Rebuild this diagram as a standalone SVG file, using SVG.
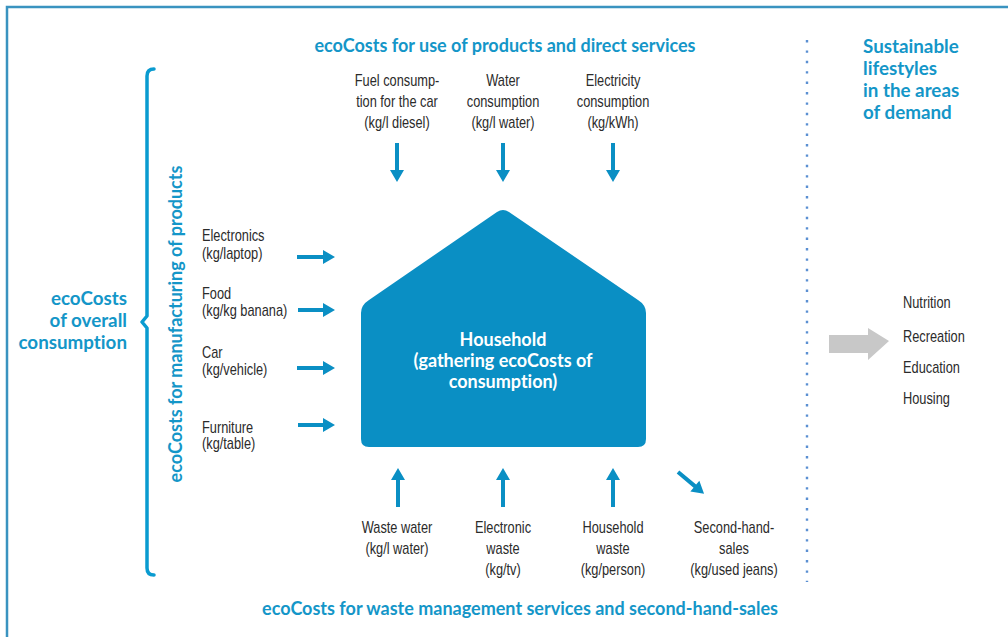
<svg xmlns="http://www.w3.org/2000/svg" width="1008" height="637" viewBox="0 0 1008 637">
<defs>
<style>
.t{font-family:"Liberation Sans",Arial,sans-serif;font-size:16px;fill:#2b2b2b;}
.c{text-anchor:middle;}
.h{font-family:Lato,"Open Sans",sans-serif;font-weight:700;font-size:18px;fill:#1496c8;font-variant-ligatures:none;}
.hb{font-family:Lato,"Open Sans",sans-serif;font-weight:700;font-size:18.8px;fill:#1496c8;font-variant-ligatures:none;}
.hw{font-family:Lato,"Open Sans",sans-serif;font-weight:700;font-size:18px;fill:#ffffff;text-anchor:middle;font-variant-ligatures:none;}
.ar{fill:#0a8fc4;}
</style>
</defs>
<rect x="0" y="0" width="1008" height="637" fill="#ffffff"/>
<path d="M7,640 L7,7 L1012,7" fill="none" stroke="#3a93c0" stroke-width="2.5"/>

<g id="brace">
<path d="M154,69 Q147,69 147,76 L147,316 L142,322 L147,328 L147,568 Q147,575 154,575" fill="none" stroke="#0a9bd0" stroke-width="3.5" stroke-linecap="round" stroke-linejoin="round"/>
</g>
<g id="overall">
<text class="hb" text-anchor="end" x="127" y="305">ecoCosts</text>
<text class="hb" text-anchor="end" x="127" y="327">of overall</text>
<text class="hb" text-anchor="end" x="127" y="349">consumption</text>
</g>
<g id="manufacturing">
<text class="h c" font-size="17.5" transform="translate(182,324) rotate(-90)" x="0" y="0">ecoCosts for manufacturing of products</text>
</g>
<g id="use-heading">
<text class="h c" x="505" y="52">ecoCosts for use of products and direct services</text>
</g>
<g id="waste-heading">
<text class="h c" x="520" y="615">ecoCosts for waste management services and second-hand-sales</text>
</g>

<g id="fuel">
<text class="t c" transform="translate(397,86) scale(.8,1)">Fuel consump-</text>
<text class="t c" transform="translate(397,107) scale(.8,1)">tion for the car</text>
<text class="t c" transform="translate(397,128) scale(.8,1)">(kg/l diesel)</text>
</g>
<g id="water">
<text class="t c" transform="translate(503,86) scale(.8,1)">Water</text>
<text class="t c" transform="translate(503,107) scale(.8,1)">consumption</text>
<text class="t c" transform="translate(503,128) scale(.8,1)">(kg/l water)</text>
</g>
<g id="electricity">
<text class="t c" transform="translate(613,86) scale(.8,1)">Electricity</text>
<text class="t c" transform="translate(613,107) scale(.8,1)">consumption</text>
<text class="t c" transform="translate(613,128) scale(.8,1)">(kg/kWh)</text>
</g>

<g id="electronics">
<text class="t" transform="translate(202,241) scale(.8,1)">Electronics</text>
<text class="t" transform="translate(202,259) scale(.8,1)">(kg/laptop)</text>
</g>
<g id="food">
<text class="t" transform="translate(202,299) scale(.8,1)">Food</text>
<text class="t" transform="translate(202,316) scale(.8,1)">(kg/kg banana)</text>
</g>
<g id="car">
<text class="t" transform="translate(202,358) scale(.8,1)">Car</text>
<text class="t" transform="translate(202,375) scale(.8,1)">(kg/vehicle)</text>
</g>
<g id="furniture">
<text class="t" transform="translate(202,433) scale(.8,1)">Furniture</text>
<text class="t" transform="translate(202,449) scale(.8,1)">(kg/table)</text>
</g>

<g id="household">
<path d="M369,300 L497,212 Q503,208 509,212 L638,300 Q646,305 646,313 L646,439 Q646,447 638,447 L369,447 Q361,447 361,439 L361,313 Q361,305 369,300 Z" fill="#0a8fc4"/>
<text class="hw" x="503" y="346">Household</text>
<text class="hw" x="503" y="367">(gathering ecoCosts of</text>
<text class="hw" x="503" y="388">consumption)</text>
</g>

<g id="wastewater">
<text class="t c" transform="translate(397,533) scale(.8,1)">Waste water</text>
<text class="t c" transform="translate(397,554) scale(.8,1)">(kg/l water)</text>
</g>
<g id="ewaste">
<text class="t c" transform="translate(503,533) scale(.8,1)">Electronic</text>
<text class="t c" transform="translate(503,554) scale(.8,1)">waste</text>
<text class="t c" transform="translate(503,575) scale(.8,1)">(kg/tv)</text>
</g>
<g id="hhwaste">
<text class="t c" transform="translate(613,533) scale(.8,1)">Household</text>
<text class="t c" transform="translate(613,554) scale(.8,1)">waste</text>
<text class="t c" transform="translate(613,575) scale(.8,1)">(kg/person)</text>
</g>
<g id="secondhand">
<text class="t c" transform="translate(734,533) scale(.8,1)">Second-hand-</text>
<text class="t c" transform="translate(734,554) scale(.8,1)">sales</text>
<text class="t c" transform="translate(734,575) scale(.8,1)">(kg/used jeans)</text>
</g>

<g id="divider">
<line x1="807" y1="40" x2="807" y2="582" stroke="#5a8fd2" stroke-width="2.4" stroke-dasharray="2.4 8"/>
</g>
<g id="lifestyles">
<text class="hb" x="863" y="53">Sustainable</text>
<text class="hb" x="863" y="75">lifestyles</text>
<text class="hb" x="863" y="97">in the areas</text>
<text class="hb" x="863" y="119">of demand</text>
</g>
<g id="areas">
<text class="t" transform="translate(903,308) scale(.8,1)">Nutrition</text>
<text class="t" transform="translate(903,342) scale(.8,1)">Recreation</text>
<text class="t" transform="translate(903,373) scale(.8,1)">Education</text>
<text class="t" transform="translate(903,404) scale(.8,1)">Housing</text>
</g>

<g id="connectors">
<path class="ar" d="M395,143 h4 v27 h5 l-7,12 l-7,-12 h5 z"/>
<path class="ar" d="M501,143 h4 v27 h5 l-7,12 l-7,-12 h5 z"/>
<path class="ar" d="M611,143 h4 v27 h5 l-7,12 l-7,-12 h5 z"/>
<path class="ar" d="M297,255 h26 v-5 l12,7 l-12,7 v-5 h-26 z"/>
<path class="ar" d="M298,308 h25 v-5 l12,7 l-12,7 v-5 h-25 z"/>
<path class="ar" d="M297,366 h26 v-5 l12,7 l-12,7 v-5 h-26 z"/>
<path class="ar" d="M298,423 h25 v-5 l12,7 l-12,7 v-5 h-25 z"/>
<path class="ar" d="M396,507 h4 v-27 h5 l-7,-12 l-7,12 h5 z"/>
<path class="ar" d="M501,507 h4 v-27 h5 l-7,-12 l-7,12 h5 z"/>
<path class="ar" d="M611,507 h4 v-27 h5 l-7,-12 l-7,12 h5 z"/>
<path class="ar" d="M0,-2 h22 v-5 l12,7 l-12,7 v-5 h-22 z" transform="translate(678,472) rotate(40)"/>
<path d="M829,335 h39 v-7 l21,13 l-21,19 v-7 h-39 z" fill="#c8c8c8"/>
</g>
</svg>
